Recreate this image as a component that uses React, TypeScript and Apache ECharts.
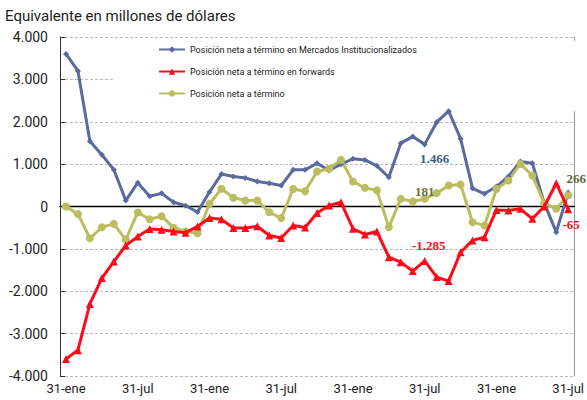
import React, { useEffect, useRef } from "react";
import * as echarts from "echarts";

const months = ["31-ene", "28-feb", "31-mar", "30-abr", "31-may", "30-jun", "31-jul", "31-ago", "30-sep", "31-oct", "30-nov", "31-dic"];
const categories: string[] = [
  ...months, ...months, ...months,
  "31-ene", "28-feb", "31-mar", "30-abr", "31-may", "30-jun", "31-jul",
];

const institucionalizados = [
  3600, 3200, 1540, 1220, 870, 140, 560, 240, 310, 100, 20, -130,
  340, 765, 710, 675, 590, 550, 495, 865, 865, 1020, 850, 1000,
  1125, 1100, 960, 690, 1495, 1650, 1466, 1990, 2250, 1600, 430, 300,
  470, 710, 1060, 1020, 80, -605, 331,
];
const forwards = [
  -3600, -3390, -2300, -1690, -1300, -920, -710, -530, -550, -590, -620, -470,
  -270, -300, -510, -510, -465, -685, -745, -450, -495, -155, 25, 100,
  -525, -660, -590, -1195, -1315, -1525, -1285, -1665, -1760, -1080, -800, -725,
  -80, -95, -55, -290, 0, 550, -65,
];
const total = [
  0, -180, -750, -490, -410, -780, -140, -300, -230, -500, -590, -630,
  60, 420, 205, 140, 140, -135, -275, 415, 360, 825, 890, 1100,
  590, 440, 380, -490, 180, 120, 181, 315, 495, 520, -370, -450,
  415, 615, 1005, 730, 80, -55, 266,
];

const seriesNames = [
  "Posición neta a término en Mercados Institucionalizados",
  "Posición neta a término en forwards",
  "Posición neta a término",
];

const BLUE = "#5b6a9d";
const RED = "#ff0a1a";
const OLIVE = "#bcbd5f";

function fmt(v: number): string {
  const s = Math.abs(v).toString().replace(/\B(?=(\d{3})+(?!\d))/g, ".");
  return (v < 0 ? "-" : "") + s;
}

const annoFont = { fontFamily: "Liberation Serif", fontWeight: "bold" as const, fontSize: 13 };

function withLabel(arr: any[], idx: number, label: any) {
  return arr.map((v, i) => (i === idx ? { value: v, label: { show: true, ...annoFont, formatter: fmt(v), ...label } } : v));
}

export default function App() {
  const ref = useRef<HTMLDivElement>(null);
  useEffect(() => {
    if (!ref.current) return;
    const chart = echarts.init(ref.current, undefined, { renderer: "svg" });
    const last = categories.length - 1;
    chart.setOption({
      animation: false,
      backgroundColor: "#fff",
      title: {
        text: "Equivalente en millones de dólares",
        left: 0,
        top: 3,
        textStyle: { fontFamily: "Roboto", fontSize: 15, fontWeight: "normal", color: "#222" },
      },
      graphic: [
        { type: "rect", left: 113, top: 41, shape: { width: 462, height: 70 }, style: { fill: "#fff" }, z: 1 },
      ],
      legend: {
        orient: "vertical",
        left: 153,
        top: 40,
        itemGap: 13,
        itemWidth: 26,
        itemHeight: 8,
        data: seriesNames,
        textStyle: { fontFamily: "Roboto", fontSize: 9, color: "#222" },
      },
      grid: { left: 60, right: 11, top: 37, bottom: 24 },
      xAxis: [
        {
          type: "category",
          data: categories,
          boundaryGap: true,
          axisLine: { show: false },
          axisTick: { show: false },
          axisLabel: {
            interval: 5,
            fontFamily: "Roboto",
            fontSize: 13,
            color: "#222",
            margin: 6,
          },
        },
        {
          type: "category",
          data: categories,
          boundaryGap: true,
          position: "bottom",
          axisLine: { show: true, onZero: true, lineStyle: { color: "#000", width: 1.3 } },
          axisTick: { show: false },
          axisLabel: { show: false },
        },
      ],
      yAxis: [
        {
          type: "value",
          min: -4000,
          max: 4000,
          interval: 1000,
          axisLine: { show: true, lineStyle: { color: "#333" } },
          axisTick: { show: true, inside: true, length: 5, lineStyle: { color: "#333" } },
          axisLabel: {
            formatter: (v: number) => fmt(v),
            fontFamily: "Roboto",
            fontSize: 14,
            color: "#222",
            margin: 12,
          },
          splitLine: { show: true, lineStyle: { color: "#bbb", type: [3, 2], width: 1 } },
        },
        {
          type: "value",
          min: -4000,
          max: 4000,
          interval: 1000,
          position: "right",
          axisLine: { show: true, lineStyle: { color: "#999" } },
          axisTick: { show: false },
          axisLabel: { show: false },
          splitLine: { show: false },
        },
      ],
      series: [
        {
          name: seriesNames[0],
          type: "line",
          data: withLabel(institucionalizados, 30, { position: "bottom", offset: [10, 0], color: "#3a5a8f" }),
          symbol: "diamond",
          symbolSize: 6,
          showAllSymbol: true,
          lineStyle: { color: BLUE, width: 3 },
          itemStyle: { color: BLUE },
          z: 3,
        },
        {
          name: seriesNames[1],
          type: "line",
          data: withLabel(
            withLabel(forwards, 30, { position: "top", offset: [4, 0], color: RED }),
            last,
            { position: "bottom", offset: [3, 0], color: RED }
          ),
          symbol: "triangle",
          symbolSize: 8,
          showAllSymbol: true,
          lineStyle: { color: RED, width: 3 },
          itemStyle: { color: RED },
          z: 4,
        },
        {
          name: seriesNames[2],
          type: "line",
          data: withLabel(
            withLabel(total, 30, { position: "top", offset: [0, 8], color: "#6b7033" }),
            last,
            { position: "top", offset: [8, -1], color: "#5c6b35" }
          ),
          symbol: "circle",
          symbolSize: 8,
          showAllSymbol: true,
          lineStyle: { color: OLIVE, width: 3 },
          itemStyle: { color: OLIVE },
          z: 3,
        },
      ],
    });
    return () => chart.dispose();
  }, []);
  return <div ref={ref} style={{ width: 587, height: 400, position: "absolute", left: 0, top: 0 }} />;
}
